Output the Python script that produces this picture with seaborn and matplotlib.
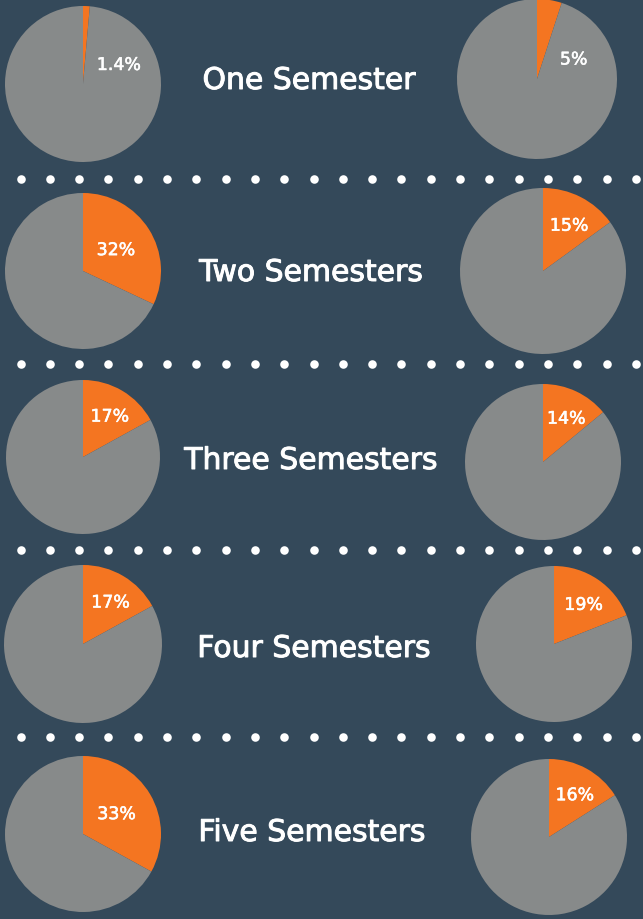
import numpy as np
import seaborn as sns
import matplotlib.pyplot as plt
import matplotlib.patheffects as pe

# data
semesters = ['One Semester', 'Two Semesters', 'Three Semesters',
             'Four Semesters', 'Five Semesters']
left_pct = [1.4, 32, 17, 17, 33]
right_pct = [5, 15, 14, 19, 16]
left_labels = ['1.4%', '32%', '17%', '17%', '33%']
right_labels = ['5%', '15%', '14%', '19%', '16%']

# layout (pixels)
W, H = 643, 920
BG = '#34495a'
GREY = '#878a8a'
ORANGE = '#f47521'
left_geo = [(83, 85, 78), (83, 272, 78), (83, 458, 77), (83, 645, 79), (83, 835, 78)]
right_geo = [(537, 80, 80), (543, 272, 83), (543, 463, 78), (554, 645, 78), (549, 838, 78)]
title_pos = [(309, 90), (311, 282), (311, 470), (314, 658), (312, 842)]  # baseline
dot_rows = [180, 365, 551, 738]

sns.set_theme(style='white')
plt.rcParams['font.family'] = ['DejaVu Sans']

fig = plt.figure(figsize=(W / 100, H / 100), dpi=100, facecolor=BG)

# overlay for text and dots
bg = fig.add_axes([0, 0, 1, 1])
bg.set_xlim(0, W)
bg.set_ylim(H, 0)
bg.axis('off')
bg.set_facecolor(BG)

for y in dot_rows:
    xs = np.arange(20.5, W, 29.3)
    bg.scatter(xs, np.full_like(xs, y), s=38, color='white', linewidths=0)

thick = [pe.withStroke(linewidth=0.7, foreground='white')]
for name, (tx, ty) in zip(semesters, title_pos):
    bg.text(tx, ty, name, color='white', fontsize=21.5, fontweight='normal',
            ha='center', va='baseline', path_effects=thick)


def draw_pie(geo, pct, label):
    cx, cy, r = geo
    ax = fig.add_axes([(cx - r) / W, 1 - (cy + r) / H, 2 * r / W, 2 * r / H])
    ax.pie([pct, 100 - pct], colors=[ORANGE, GREY], startangle=90,
           counterclock=False, radius=1,
           wedgeprops=dict(linewidth=0))
    ax.set_xlim(-1, 1)
    ax.set_ylim(-1, 1)
    ax.axis('off')
    # label placement: middle of the slice, pushed out for thin slices
    if pct < 10:
        ang, dist = 62, 0.52
    elif pct > 25:
        ang, dist = pct / 2 * 3.6, 0.50
    else:
        ang, dist = pct / 2 * 3.6 + 3, 0.63
    a = np.radians(ang)
    ax.text(dist * np.sin(a), dist * np.cos(a), label, color='white',
            fontsize=12.5, fontweight='normal', ha='center', va='center',
            path_effects=[pe.withStroke(linewidth=0.4, foreground='white')])


for i in range(len(semesters)):
    draw_pie(left_geo[i], left_pct[i], left_labels[i])
    draw_pie(right_geo[i], right_pct[i], right_labels[i])

fig.savefig('out.png', dpi=100, facecolor=BG)
